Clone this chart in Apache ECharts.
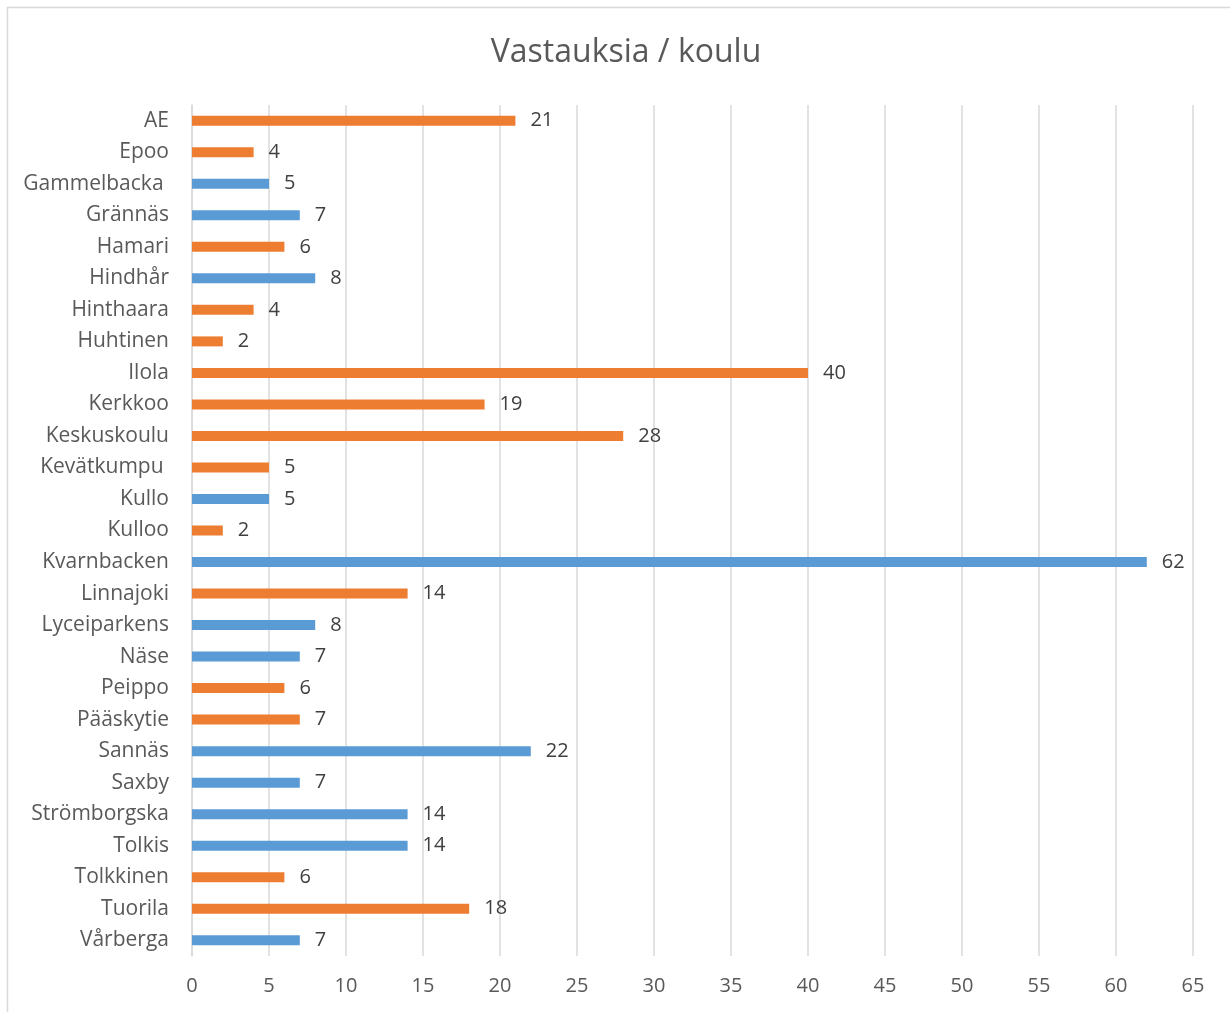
<!DOCTYPE html>
<html>
<head>
<meta charset="utf-8">
<script src="https://cdn.jsdelivr.net/npm/echarts@6/dist/echarts.min.js"></script>
<style>
  html, body { margin: 0; padding: 0; background: #fff; }
  #chart { width: 1230px; height: 1012px; }
</style>
</head>
<body>
<div id="chart"></div>
<script>
// koulut ylhäältä alas
var schools = ['AE', 'Epoo', 'Gammelbacka ', 'Grännäs', 'Hamari', 'Hindhår', 'Hinthaara', 'Huhtinen',
  'Ilola', 'Kerkkoo', 'Keskuskoulu', 'Kevätkumpu ', 'Kullo', 'Kulloo', 'Kvarnbacken', 'Linnajoki',
  'Lyceiparkens', 'Näse', 'Peippo', 'Pääskytie', 'Sannäs', 'Saxby', 'Strömborgska', 'Tolkis',
  'Tolkkinen', 'Tuorila', 'Vårberga'];
var answers = [21, 4, 5, 7, 6, 8, 4, 2, 40, 19, 28, 5, 5, 2, 62, 14, 8, 7, 6, 7, 22, 7, 14, 14, 6, 18, 7];
// kieli: fi = suomenkielinen, sv = ruotsinkielinen
var language = ['fi', 'fi', 'sv', 'sv', 'fi', 'sv', 'fi', 'fi', 'fi', 'fi', 'fi', 'fi', 'sv', 'fi', 'sv', 'fi',
  'sv', 'sv', 'fi', 'fi', 'sv', 'sv', 'sv', 'sv', 'fi', 'fi', 'sv'];

var colors = { fi: '#ED7D31', sv: '#5B9BD5' };
var font = '"Open Sans", Lato, sans-serif';

var data = answers.map(function (v, i) {
  return { value: v, itemStyle: { color: colors[language[i]] } };
});

var myChart = echarts.init(document.getElementById('chart'));
var option = {
  backgroundColor: '#fff',
  animation: false,
  title: {
    text: 'Vastauksia / koulu',
    left: 621,
    textAlign: 'center',
    top: 32,
    textStyle: { fontFamily: font, fontSize: 32, fontWeight: 'normal', color: '#595959' }
  },
  graphic: [{
    type: 'rect',
    shape: { x: 7.5, y: 7.5, width: 1240, height: 1020 },
    style: { fill: 'none', stroke: '#d9d9d9', lineWidth: 1.5 },
    silent: true
  }],
  grid: { left: 192, right: 37, top: 105, bottom: 56, containLabel: false },
  xAxis: {
    type: 'value',
    min: 0,
    max: 65,
    interval: 5,
    axisLine: { show: false },
    axisTick: { show: false },
    axisLabel: { fontFamily: font, fontSize: 20, color: '#595959', margin: 20 },
    splitLine: { lineStyle: { color: '#d9d9d9', width: 1.5 } }
  },
  yAxis: {
    type: 'category',
    data: schools,
    inverse: true,
    axisLine: { show: true, lineStyle: { color: '#d9d9d9', width: 1.5 } },
    axisTick: { show: false },
    axisLabel: { fontFamily: font, fontSize: 21, color: '#595959', margin: 23 }
  },
  series: [{
    type: 'bar',
    data: data,
    barWidth: 10,
    label: {
      show: true,
      position: 'right',
      distance: 15,
      fontFamily: font,
      fontSize: 20,
      color: '#404040'
    }
  }]
};
myChart.setOption(option);
</script>
</body>
</html>
